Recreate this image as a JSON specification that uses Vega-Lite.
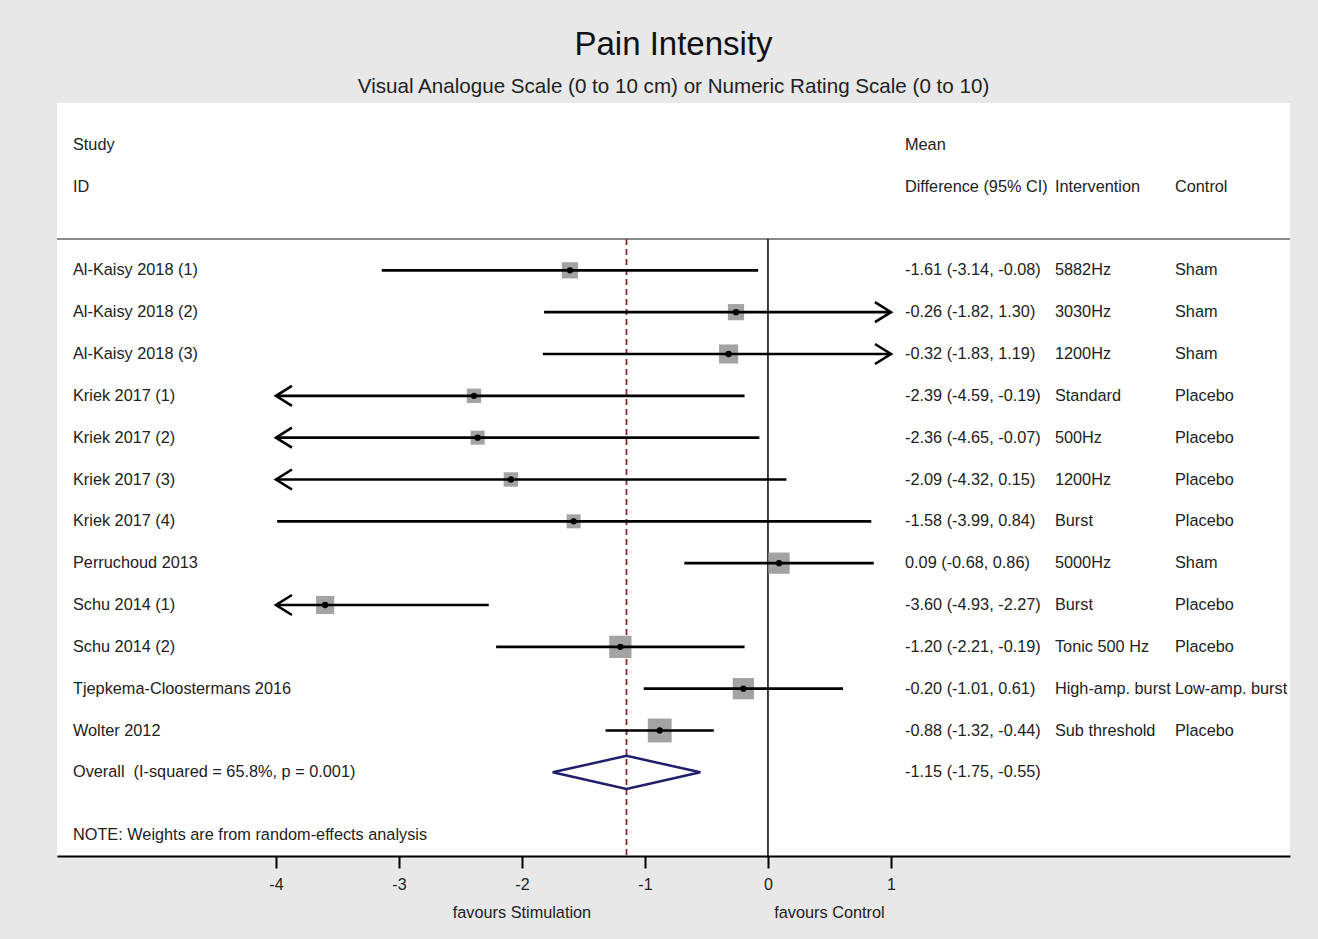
{
  "$schema": "https://vega.github.io/schema/vega-lite/v6.json",
  "autosize": "none",
  "width": 1233,
  "height": 753,
  "padding": {"left": 57, "top": 103, "right": 28, "bottom": 83},
  "background": "#e8e8e8",
  "title": {
    "text": "Pain Intensity",
    "subtitle": "Visual Analogue Scale (0 to 10 cm) or Numeric Rating Scale (0 to 10)",
    "font": "Liberation Sans",
    "subtitleFont": "Liberation Sans",
    "fontSize": 33,
    "subtitleFontSize": 20.6,
    "fontWeight": "normal",
    "color": "#111111",
    "subtitleColor": "#222222",
    "anchor": "middle",
    "offset": 5,
    "subtitlePadding": 15
  },
  "config": {
    "view": {"fill": "white", "stroke": null},
    "axisX": {
      "domainColor": "#000000",
      "domainWidth": 2,
      "tickColor": "#000000",
      "tickWidth": 2,
      "tickSize": 12,
      "labelFont": "Liberation Sans",
      "labelFontSize": 16,
      "labelColor": "#222222",
      "labelPadding": 8,
      "grid": false
    },
    "text": {"font": "Liberation Sans", "fontSize": 16.3, "color": "#222222", "align": "left", "baseline": "middle"}
  },
  "data": {
    "values": [
      {"order": 1, "type": "study", "study": "Al-Kaisy 2018 (1)", "est": -1.61, "lo": -3.14, "hi": -0.08, "ci": "-1.61 (-3.14, -0.08)", "intervention": "5882Hz", "control": "Sham", "weight": 6.7},
      {"order": 2, "type": "study", "study": "Al-Kaisy 2018 (2)", "est": -0.26, "lo": -1.82, "hi": 1.30, "ci": "-0.26 (-1.82, 1.30)", "intervention": "3030Hz", "control": "Sham", "weight": 6.7},
      {"order": 3, "type": "study", "study": "Al-Kaisy 2018 (3)", "est": -0.32, "lo": -1.83, "hi": 1.19, "ci": "-0.32 (-1.83, 1.19)", "intervention": "1200Hz", "control": "Sham", "weight": 9.3},
      {"order": 4, "type": "study", "study": "Kriek 2017 (1)", "est": -2.39, "lo": -4.59, "hi": -0.19, "ci": "-2.39 (-4.59, -0.19)", "intervention": "Standard", "control": "Placebo", "weight": 5.3},
      {"order": 5, "type": "study", "study": "Kriek 2017 (2)", "est": -2.36, "lo": -4.65, "hi": -0.07, "ci": "-2.36 (-4.65, -0.07)", "intervention": "500Hz", "control": "Placebo", "weight": 5.0},
      {"order": 6, "type": "study", "study": "Kriek 2017 (3)", "est": -2.09, "lo": -4.32, "hi": 0.15, "ci": "-2.09 (-4.32, 0.15)", "intervention": "1200Hz", "control": "Placebo", "weight": 5.3},
      {"order": 7, "type": "study", "study": "Kriek 2017 (4)", "est": -1.58, "lo": -3.99, "hi": 0.84, "ci": "-1.58 (-3.99, 0.84)", "intervention": "Burst", "control": "Placebo", "weight": 5.0},
      {"order": 8, "type": "study", "study": "Perruchoud 2013", "est": 0.09, "lo": -0.68, "hi": 0.86, "ci": "0.09 (-0.68, 0.86)", "intervention": "5000Hz", "control": "Sham", "weight": 11.5},
      {"order": 9, "type": "study", "study": "Schu 2014 (1)", "est": -3.60, "lo": -4.93, "hi": -2.27, "ci": "-3.60 (-4.93, -2.27)", "intervention": "Burst", "control": "Placebo", "weight": 8.4},
      {"order": 10, "type": "study", "study": "Schu 2014 (2)", "est": -1.20, "lo": -2.21, "hi": -0.19, "ci": "-1.20 (-2.21, -0.19)", "intervention": "Tonic 500 Hz", "control": "Placebo", "weight": 12.6},
      {"order": 11, "type": "study", "study": "Tjepkema-Cloostermans 2016", "est": -0.20, "lo": -1.01, "hi": 0.61, "ci": "-0.20 (-1.01, 0.61)", "intervention": "High-amp. burst", "control": "Low-amp. burst", "weight": 11.5},
      {"order": 12, "type": "study", "study": "Wolter 2012", "est": -0.88, "lo": -1.32, "hi": -0.44, "ci": "-0.88 (-1.32, -0.44)", "intervention": "Sub threshold", "control": "Placebo", "weight": 14.5},
      {"order": 13, "type": "overall", "study": "Overall \u00a0(I-squared = 65.8%, p = 0.001)", "est": -1.15, "lo": -1.75, "hi": -0.55, "ci": "-1.15 (-1.75, -0.55)", "intervention": "", "control": ""}
    ]
  },
  "layer": [
    {
      "transform": [{"filter": "datum.type == 'overall'"}],
      "mark": {"type": "rule", "color": "#8a8a8a", "strokeWidth": 2},
      "encoding": {
        "y": {"datum": 0.25, "type": "quantitative", "scale": {"domain": [15, -3], "nice": false, "zero": false}, "axis": null}
      }
    },
    {
      "transform": [{"filter": "datum.type == 'overall'"}],
      "mark": {"type": "rule", "color": "#000000", "strokeWidth": 1.5},
      "encoding": {
        "x": {"datum": 0, "type": "quantitative", "scale": {"domain": [-5.78, 4.244], "nice": false, "zero": false}},
        "y": {"datum": 0.25, "type": "quantitative", "axis": null},
        "y2": {"value": {"expr": "height"}}
      }
    },
    {
      "transform": [{"filter": "datum.type == 'overall'"}],
      "mark": {"type": "rule", "color": "#8b2a2a", "strokeWidth": 1.8, "strokeDash": [6, 4]},
      "encoding": {
        "x": {"field": "est", "type": "quantitative", "title": null, "scale": {"domain": [-5.78, 4.244], "nice": false, "zero": false}, "axis": {"values": [-4, -3, -2, -1, 0, 1], "labelExpr": "datum.value < 0 ? '-' + abs(datum.value) : '' + datum.value", "title": null}},
        "y": {"datum": 0.25, "type": "quantitative", "axis": null},
        "y2": {"value": {"expr": "height"}}
      }
    },
    {
      "transform": [{"filter": "datum.type == 'study'"}],
      "mark": {"type": "square", "filled": true, "color": "#a3a3a3", "opacity": 1},
      "encoding": {
        "x": {"field": "est", "type": "quantitative", "title": null},
        "y": {"field": "order", "type": "quantitative", "axis": null},
        "size": {"field": "weight", "type": "quantitative", "scale": {"domain": [0, 14.5], "range": [0, 570]}, "legend": null}
      }
    },
    {
      "transform": [{"filter": "datum.type == 'study' && datum.lo >= -4 && datum.hi <= 1"}],
      "mark": {"type": "rule", "color": "#000000", "strokeWidth": 2.6},
      "encoding": {
        "x": {"field": "lo", "type": "quantitative", "title": null},
        "x2": {"field": "hi"},
        "y": {"field": "order", "type": "quantitative", "axis": null}
      }
    },
    {
      "transform": [{"filter": "datum.type == 'study' && datum.lo < -4"}],
      "mark": {"type": "rule", "color": "#000000", "strokeWidth": 2.6},
      "encoding": {
        "x": {"field": "hi", "type": "quantitative", "title": null},
        "x2": {"value": {"expr": "scale('x', -4)"}},
        "y": {"field": "order", "type": "quantitative", "axis": null}
      }
    },
    {
      "transform": [{"filter": "datum.type == 'study' && datum.hi > 1"}],
      "mark": {"type": "rule", "color": "#000000", "strokeWidth": 2.6},
      "encoding": {
        "x": {"field": "lo", "type": "quantitative", "title": null},
        "x2": {"value": {"expr": "scale('x', 1)"}},
        "y": {"field": "order", "type": "quantitative", "axis": null}
      }
    },
    {
      "transform": [{"filter": "datum.type == 'study' && datum.lo < -4"}],
      "mark": {"type": "point", "shape": "M 1.6 -1 L 0 0 L 1.6 1", "size": 400, "filled": false, "stroke": "#000000", "strokeWidth": 2.6, "opacity": 1},
      "encoding": {
        "x": {"datum": -4, "type": "quantitative"},
        "y": {"field": "order", "type": "quantitative", "axis": null}
      }
    },
    {
      "transform": [{"filter": "datum.type == 'study' && datum.hi > 1"}],
      "mark": {"type": "point", "shape": "M -1.6 -1 L 0 0 L -1.6 1", "size": 400, "filled": false, "stroke": "#000000", "strokeWidth": 2.6, "opacity": 1},
      "encoding": {
        "x": {"datum": 1, "type": "quantitative"},
        "y": {"field": "order", "type": "quantitative", "axis": null}
      }
    },
    {
      "transform": [{"filter": "datum.type == 'study'"}],
      "mark": {"type": "circle", "size": 40, "color": "#000000", "opacity": 1},
      "encoding": {
        "x": {"field": "est", "type": "quantitative", "title": null},
        "y": {"field": "order", "type": "quantitative", "axis": null}
      }
    },
    {
      "transform": [{"filter": "datum.type == 'overall'"}],
      "mark": {"type": "point", "shape": "M -1 0 L 0 -0.224 L 1 0 L 0 0.224 Z", "size": 21786, "filled": false, "stroke": "#1f1f6b", "strokeWidth": 2.5, "opacity": 1},
      "encoding": {
        "x": {"field": "est", "type": "quantitative", "title": null},
        "y": {"field": "order", "type": "quantitative", "axis": null}
      }
    },
    {
      "mark": {"type": "text"},
      "encoding": {
        "x": {"datum": -5.65, "type": "quantitative"},
        "y": {"field": "order", "type": "quantitative", "axis": null},
        "text": {"field": "study"}
      }
    },
    {
      "mark": {"type": "text"},
      "encoding": {
        "x": {"datum": 1.114, "type": "quantitative"},
        "y": {"field": "order", "type": "quantitative", "axis": null},
        "text": {"field": "ci"}
      }
    },
    {
      "mark": {"type": "text"},
      "encoding": {
        "x": {"datum": 2.333, "type": "quantitative"},
        "y": {"field": "order", "type": "quantitative", "axis": null},
        "text": {"field": "intervention"}
      }
    },
    {
      "mark": {"type": "text"},
      "encoding": {
        "x": {"datum": 3.309, "type": "quantitative"},
        "y": {"field": "order", "type": "quantitative", "axis": null},
        "text": {"field": "control"}
      }
    },
    {
      "transform": [{"filter": "datum.type == 'overall'"}],
      "mark": {"type": "text", "text": "Study"},
      "encoding": {"x": {"datum": -5.65, "type": "quantitative"}, "y": {"datum": -2, "type": "quantitative", "axis": null}}
    },
    {
      "transform": [{"filter": "datum.type == 'overall'"}],
      "mark": {"type": "text", "text": "ID"},
      "encoding": {"x": {"datum": -5.65, "type": "quantitative"}, "y": {"datum": -1, "type": "quantitative", "axis": null}}
    },
    {
      "transform": [{"filter": "datum.type == 'overall'"}],
      "mark": {"type": "text", "text": "Mean"},
      "encoding": {"x": {"datum": 1.114, "type": "quantitative"}, "y": {"datum": -2, "type": "quantitative", "axis": null}}
    },
    {
      "transform": [{"filter": "datum.type == 'overall'"}],
      "mark": {"type": "text", "text": "Difference (95% CI)"},
      "encoding": {"x": {"datum": 1.114, "type": "quantitative"}, "y": {"datum": -1, "type": "quantitative", "axis": null}}
    },
    {
      "transform": [{"filter": "datum.type == 'overall'"}],
      "mark": {"type": "text", "text": "Intervention"},
      "encoding": {"x": {"datum": 2.333, "type": "quantitative"}, "y": {"datum": -1, "type": "quantitative", "axis": null}}
    },
    {
      "transform": [{"filter": "datum.type == 'overall'"}],
      "mark": {"type": "text", "text": "Control"},
      "encoding": {"x": {"datum": 3.309, "type": "quantitative"}, "y": {"datum": -1, "type": "quantitative", "axis": null}}
    },
    {
      "transform": [{"filter": "datum.type == 'overall'"}],
      "mark": {"type": "text", "text": "NOTE: Weights are from random-effects analysis"},
      "encoding": {"x": {"datum": -5.65, "type": "quantitative"}, "y": {"datum": 14.5, "type": "quantitative", "axis": null}}
    },
    {
      "transform": [{"filter": "datum.type == 'overall'"}],
      "mark": {"type": "text", "text": "favours Stimulation", "align": "center"},
      "encoding": {"x": {"datum": -2, "type": "quantitative"}, "y": {"datum": 16.36, "type": "quantitative", "axis": null}}
    },
    {
      "transform": [{"filter": "datum.type == 'overall'"}],
      "mark": {"type": "text", "text": "favours Control", "align": "center"},
      "encoding": {"x": {"datum": 0.5, "type": "quantitative"}, "y": {"datum": 16.36, "type": "quantitative", "axis": null}}
    }
  ]
}
